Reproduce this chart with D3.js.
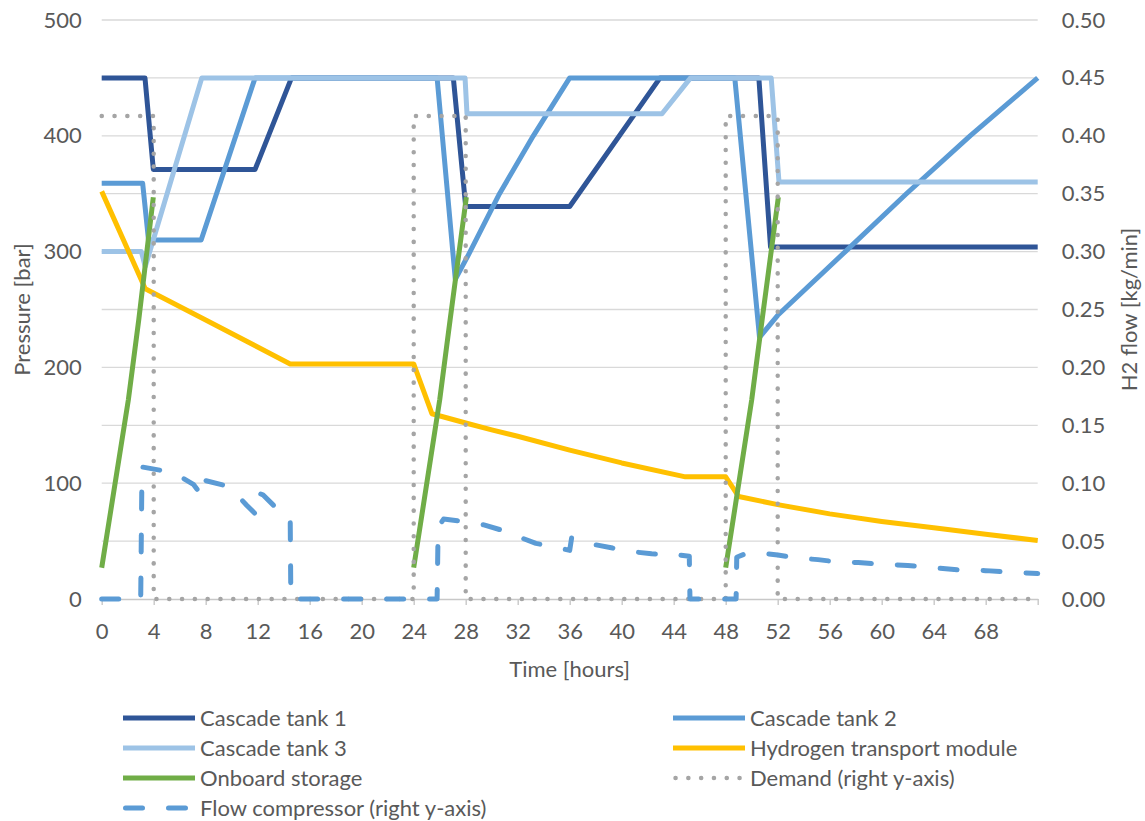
<!DOCTYPE html>
<html>
<head>
<meta charset="utf-8">
<script src="https://cdn.jsdelivr.net/npm/d3@7"></script>
<style>
  body { margin: 0; background: #fff; }
  svg text { font-family: Lato, "Open Sans", sans-serif; fill: #595959; }
</style>
</head>
<body>
<svg id="chart" width="1145" height="821"></svg>
<script>
// ---------- data (time in hours, pressure in bar, flow in kg/min) ----------
const xTickValues = [0, 4, 8, 12, 16, 20, 24, 28, 32, 36, 40, 44, 48, 52, 56, 60, 64, 68, 72];
const leftTickValues = [0, 100, 200, 300, 400, 500];
const rightTickValues = [0, 0.05, 0.10, 0.15, 0.20, 0.25, 0.30, 0.35, 0.40, 0.45, 0.50];

const cascadeTank1 = [[0,450],[3.33,450],[3.97,371],[11.8,371],[14.6,450],[27.05,450],[28.0,339],[36.0,339],[42.95,450],[50.55,450],[51.45,304],[72,304]];
const cascadeTank2 = [[0,359],[3.15,359],[3.6,310],[7.65,310],[11.8,450],[25.8,450],[27.2,276],[28.2,297],[30.6,350],[33.2,400],[36.0,450],[48.7,450],[50.6,226],[52,245],[57.2,300],[61.9,350],[66.8,400],[72,450]];
const cascadeTank3 = [[0,300],[3.05,300],[3.35,287],[7.7,450],[27.95,450],[28.1,419],[43.1,419],[45.3,450],[51.5,450],[52.1,360],[72,360]];
const transportModule = [[0,352],[3.35,268],[8,241],[14.5,203],[24,203],[25.4,160],[28,152],[30,146],[32,140.5],[36,128.5],[40,117.5],[44.9,105.5],[48,105.5],[49.0,88.5],[52,81.5],[56,73.5],[60,67],[64,61.5],[68,56],[72,50.5]];
const onboardFill1 = [[0,27],[2.05,172],[2.85,241],[3.97,347]];
const onboardFill2 = [[24,27],[26.0,172],[26.8,241],[28.05,347]];
const onboardFill3 = [[48,27],[50.0,172],[50.8,241],[52.05,347]];
const demand = [[0,0.417],[4,0.417],[4,0],[24,0],[24,0.417],[28,0.417],[28,0],[48,0],[48,0.417],[52,0.417],[52,0],[72,0]];
const flowCompressor = [[0,0],[3.0,0],[3.1,0.114],[4.6,0.111],[6.0,0.106],[7.05,0.099],[7.65,0.090],[7.72,0.103],[9.5,0.098],[10.4,0.090],[11.15,0.081],[11.78,0.074],[11.9,0.092],[12.4,0.090],[13.3,0.080],[14.5,0.070],[14.55,0],[25.8,0],[25.88,0.062],[26.3,0.069],[27.8,0.067],[29.4,0.064],[30.6,0.060],[32,0.054],[33.4,0.048],[34.8,0.045],[36.0,0.042],[36.15,0.053],[37.9,0.047],[39.3,0.044],[40.7,0.041],[42.3,0.039],[43.0,0.0385],[43.15,0.0395],[45.2,0.037],[45.25,0],[48.8,0],[48.85,0.036],[49.5,0.039],[50.5,0.040],[52,0.038],[53.4,0.0355],[55.1,0.034],[56.6,0.032],[58.2,0.0315],[60,0.030],[62,0.029],[64,0.027],[66,0.025],[68,0.0245],[70,0.023],[72,0.022]];

const legendLabels = ["Cascade tank 1","Cascade tank 2","Cascade tank 3","Hydrogen transport module","Onboard storage","Demand (right y-axis)","Flow compressor (right y-axis)"];

// ---------- layout ----------
const svg = d3.select("#chart");
const plotLeft = 101.7, plotRight = 1037.7, plotTop = 20, plotBottom = 599;
const x = d3.scaleLinear().domain([0, 72]).range([plotLeft, plotRight]);
const yL = d3.scaleLinear().domain([0, 500]).range([plotBottom, plotTop]);
const yR = d3.scaleLinear().domain([0, 0.5]).range([plotBottom, plotTop]);
const fontSize = 22;

// gridlines
svg.append("g").selectAll("line").data(rightTickValues.filter(d => d > 0)).join("line")
  .attr("x1", plotLeft).attr("x2", plotRight)
  .attr("y1", d => yR(d)).attr("y2", d => yR(d))
  .attr("stroke", "#D9D9D9").attr("stroke-width", 1.3);

// x axis
const xAxis = svg.append("g").attr("transform", `translate(0,${plotBottom})`)
  .call(d3.axisBottom(x).tickValues(xTickValues).tickFormat(d => d === 72 ? "" : d)
    .tickSize(6).tickSizeOuter(0).tickPadding(18));
xAxis.select(".domain").attr("stroke", "#C8C8C8").attr("stroke-width", 1.4);
xAxis.selectAll(".tick line").attr("stroke", "#C8C8C8").attr("stroke-width", 1.4);
xAxis.selectAll("text").style("font-size", fontSize + "px").attr("fill", "#595959");

// left axis
const lAxis = svg.append("g").attr("transform", `translate(${plotLeft},0)`)
  .call(d3.axisLeft(yL).tickValues(leftTickValues).tickSize(0).tickPadding(20));
lAxis.select(".domain").remove();
lAxis.selectAll("text").style("font-size", fontSize + "px").attr("fill", "#595959");

// right axis
const rAxis = svg.append("g").attr("transform", `translate(${plotRight},0)`)
  .call(d3.axisRight(yR).tickValues(rightTickValues).tickFormat(d3.format(".2f")).tickSize(0).tickPadding(24));
rAxis.select(".domain").remove();
rAxis.selectAll("text").style("font-size", fontSize + "px").attr("fill", "#595959");

// axis titles
svg.append("text").attr("transform", `translate(30,${(plotTop + plotBottom) / 2}) rotate(-90)`)
  .attr("text-anchor", "middle").style("font-size", fontSize + "px").text("Pressure [bar]");
svg.append("text").attr("transform", `translate(1137,${(plotTop + plotBottom) / 2}) rotate(-90)`)
  .attr("text-anchor", "middle").style("font-size", fontSize + "px").text("H2 flow [kg/min]");
svg.append("text").attr("x", (plotLeft + plotRight) / 2).attr("y", 677)
  .attr("text-anchor", "middle").style("font-size", fontSize + "px").text("Time [hours]");

// ---------- series ----------
const lineL = d3.line().x(d => x(d[0])).y(d => yL(d[1]));
const lineR = d3.line().x(d => x(d[0])).y(d => yR(d[1]));

const styles = [
  { color: "#2F5597", width: 5, dash: null, cap: "butt" },
  { color: "#5B9BD5", width: 5, dash: null, cap: "butt" },
  { color: "#9DC3E6", width: 5, dash: null, cap: "butt" },
  { color: "#FFC000", width: 5, dash: null, cap: "butt" },
  { color: "#70AD47", width: 5, dash: null, cap: "butt" },
  { color: "#A5A5A5", width: 4.5, dash: "0.1 12.7", cap: "round" },
  { color: "#5B9BD5", width: 5, dash: "17 26", cap: "round" }
];

const seriesPaths = [
  [lineL(cascadeTank1)],
  [lineL(cascadeTank2)],
  [lineL(cascadeTank3)],
  [lineL(transportModule)],
  [lineL(onboardFill1), lineL(onboardFill2), lineL(onboardFill3)],
  [lineR(demand)],
  [lineR(flowCompressor)]
];

const gSeries = svg.append("g").attr("fill", "none");
seriesPaths.forEach((paths, i) => {
  const s = styles[i];
  paths.forEach(p => {
    gSeries.append("path").attr("d", p)
      .attr("stroke", s.color).attr("stroke-width", s.width)
      .attr("stroke-linejoin", "round").attr("stroke-linecap", s.cap)
      .attr("stroke-dasharray", s.dash);
  });
});

// ---------- legend ----------
const legendCols = [123, 673];
const legendRowY = 718, legendRowGap = 30, swatchLen = 72;
const legend = svg.append("g");
legendLabels.forEach((label, i) => {
  const col = i % 2, row = Math.floor(i / 2);
  const lx = legendCols[col], ly = legendRowY + row * legendRowGap;
  const s = styles[i];
  legend.append("line").attr("x1", lx + (s.cap === "round" ? 2.5 : 0)).attr("x2", lx + swatchLen - (s.cap === "round" ? 2.5 : 0))
    .attr("y1", ly).attr("y2", ly)
    .attr("stroke", s.color).attr("stroke-width", s.width)
    .attr("stroke-linecap", s.cap).attr("stroke-dasharray", s.dash);
  legend.append("text").attr("x", lx + swatchLen + 5).attr("y", ly).attr("dy", "0.35em")
    .style("font-size", fontSize + "px").text(label);
});
</script>
</body>
</html>
